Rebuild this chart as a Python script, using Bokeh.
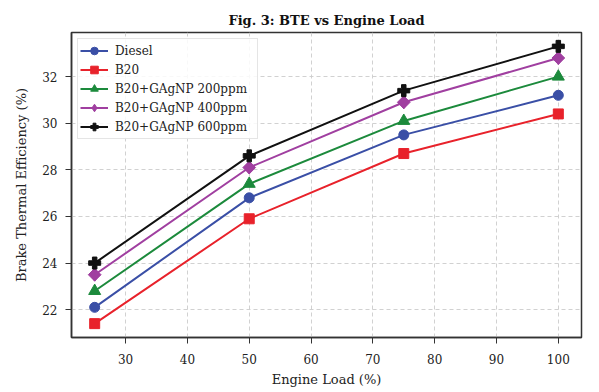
import math
from bokeh.plotting import figure
from bokeh.embed import file_html
from bokeh.resources import INLINE
from bokeh.models import Range1d, Legend, LegendItem, FixedTicker

load = [25, 50, 75, 100]
diesel = [22.1, 26.8, 29.5, 31.2]
b20 = [21.4, 25.9, 28.7, 30.4]
g200 = [22.8, 27.4, 30.1, 32.0]
g400 = [23.5, 28.1, 30.9, 32.8]
g600 = [24.0, 28.6, 31.4, 33.3]
names = ["Diesel", "B20", "B20+GAgNP 200ppm", "B20+GAgNP 400ppm", "B20+GAgNP 600ppm"]
colors = ["#3A4FA6", "#E8222B", "#1C8A3C", "#A03FA0", "#111111"]
markers = ["circle", "square", "triangle", "diamond", "plus"]
msize = [10, 10, 12, 13, 12]
series = [diesel, b20, g200, g400, g600]
x_ticks = [30, 40, 50, 60, 70, 80, 90, 100]
y_ticks = [22, 24, 26, 28, 30, 32]

FONT = "DejaVu Serif"

p = figure(width=591, height=390, output_backend="svg", toolbar_location=None,
           x_range=Range1d(21.25, 103.75), y_range=Range1d(20.805, 33.895),
           min_border_left=71, min_border_right=10, min_border_top=32, min_border_bottom=53)

p.title.text = "Fig. 3: BTE vs Engine Load"
p.title.text_font = FONT
p.title.text_font_size = "13px"
p.title.text_font_style = "bold"
p.title.align = "center"
p.title.text_color = "#111111"

items = []
for name, ys, c, m, s in zip(names, series, colors, markers, msize):
    r1 = p.line(load, ys, line_color=c, line_width=2)
    r2 = p.scatter(load, ys, marker=m, size=s, fill_color=c, line_color=c)
    if m == "diamond":
        # widen the diamond to a square-rotated shape, like the reference
        p.scatter(load, ys, marker="square", size=9, angle=math.pi / 4,
                  fill_color=c, line_color=c)
    items.append(LegendItem(label=name, renderers=[r1, r2]))

legend = Legend(items=items, location="top_left")
legend.label_text_font = FONT
legend.label_text_font_size = "12px"
legend.label_text_color = "#222222"
legend.spacing = 0
legend.padding = 2
legend.margin = 6
legend.label_height = 19
legend.glyph_height = 19
legend.glyph_width = 28
legend.label_width = 140
legend.border_line_color = "#cccccc"
legend.border_line_width = 1
legend.background_fill_alpha = 0.85
legend.label_standoff = 7
p.add_layout(legend)

p.xaxis.ticker = FixedTicker(ticks=x_ticks)
p.yaxis.ticker = FixedTicker(ticks=y_ticks)
p.xaxis.axis_label = "Engine Load (%)"
p.yaxis.axis_label = "Brake Thermal Efficiency (%)"
for ax in (p.xaxis[0], p.yaxis[0]):
    ax.axis_label_text_font = FONT
    ax.axis_label_text_font_size = "13px"
    ax.axis_label_text_font_style = "normal"
    ax.axis_label_text_color = "#222222"
    ax.major_label_text_font = FONT
    ax.major_label_text_font_size = "12px"
    ax.major_label_text_color = "#222222"
    ax.minor_tick_line_color = None
    ax.major_tick_out = 6
    ax.major_tick_in = 0
    ax.axis_line_color = "#333333"
    ax.axis_line_width = 1.5
    ax.major_tick_line_color = "#333333"
p.xaxis.major_label_standoff = 10
p.yaxis.major_label_standoff = 8
p.xaxis.axis_label_standoff = 5
p.yaxis.axis_label_standoff = 10
p.outline_line_color = "#333333"
p.outline_line_width = 1.5
p.grid.grid_line_color = "#cccccc"
p.grid.grid_line_dash = "4 3"
p.grid.grid_line_alpha = 0.9

open("out.html", "w").write(file_html(p, INLINE))
